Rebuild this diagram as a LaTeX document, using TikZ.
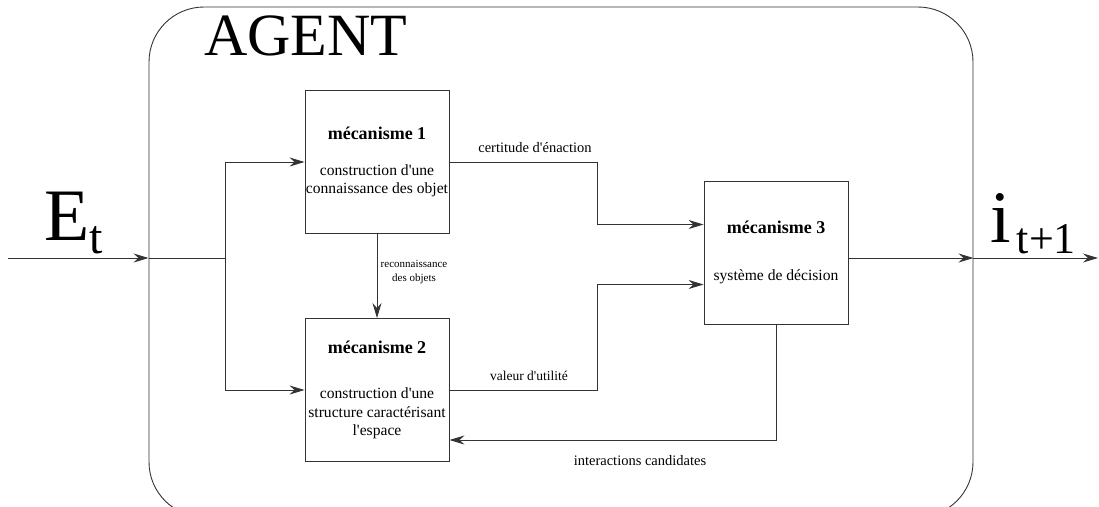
\documentclass[tikz,border=0pt]{standalone}
\usepackage{fontspec}
\setmainfont{Liberation Serif}
\usetikzlibrary{arrows.meta,calc}
\newcommand{\apos}{\textquotesingle}
\begin{document}
\begin{tikzpicture}[x=1pt,y=-1pt,
  line/.style={draw=black!80,line width=0.9pt},
  arr/.style={line,-{Stealth[length=15pt,width=9pt,inset=5pt]}},
  mech/.style={line,minimum width=144pt,minimum height=143pt,align=center,inner sep=0pt,
     font=\fontsize{15.6}{18.5}\selectfont},
  lbl/.style={font=\fontsize{13.5}{15}\selectfont,inner sep=0pt},
  small/.style={font=\fontsize{11}{13.5}\selectfont,inner sep=0pt,align=center}]
\useasboundingbox (0,0) rectangle (1099,506);
\clip (0,0) rectangle (1099,506);
\node[line,rounded corners=55pt,minimum width=824pt,minimum height=510pt,inner sep=0pt] (agent) at (561,262) {};
\node[anchor=base west,inner sep=0pt,font=\fontsize{60}{60}\selectfont] (title) at (204,55) {AGENT};
\node[mech] (m1) at (377,162) {\textbf{\fontsize{18}{20}\selectfont mécanisme 1}\\[17pt]construction d\apos une\\connaissance des objet};
\node[mech] (m2) at (377,390) {\textbf{\fontsize{18}{20}\selectfont mécanisme 2}\\[27pt]construction d\apos une\\structure caractérisant\\l\apos espace};
\node[mech] (m3) at (776,252.5) {\textbf{\fontsize{18}{20}\selectfont mécanisme 3}\\[29pt]système de décision};
\coordinate (ein) at (8,258);
\coordinate (split) at (225,258);
\coordinate (eout) at (1098,258);
\node[anchor=base west,inner sep=0pt] (et) at (44,240) {\fontsize{74}{74}\selectfont E\raisebox{-13pt}{\fontsize{48}{48}\selectfont t}};
\node[anchor=base west,inner sep=0pt] (it) at (990,242) {\fontsize{74}{74}\selectfont i\hspace{6pt}\raisebox{-11pt}{\fontsize{44}{44}\selectfont t+1}};
\draw[arr] (ein) -- (ein -| agent.west);
\draw[line] (ein -| agent.west) -- (split);
\draw[arr] (split) |- (m1.west);
\draw[arr] (split) |- (m2.west);
\draw[arr] (m1) -- (m2);
\draw[arr] (m1.east) -- ++(148,0) |- ([yshift=28pt]m3.west);
\draw[arr] (m2.east) -- ++(148,0) |- ([yshift=-32pt]m3.west);
\draw[arr] (m3.east |- ein) -- (ein -| agent.east);
\draw[arr] (ein -| agent.east) -- (eout);
\draw[arr] (m3.south) |- ([yshift=-50pt]m2.east);
\node[lbl,font=\fontsize{14.5}{16}\selectfont] (l1) at (535,148) {certitude d\apos énaction};
\node[lbl] (l2) at (529,376) {valeur d\apos utilité};
\node[small] (l3) at (414,272) {reconnaissance\\des objets};
\node[lbl,font=\fontsize{14.5}{16}\selectfont] (l4) at (640,461) {interactions candidates};
\end{tikzpicture}
\end{document}
